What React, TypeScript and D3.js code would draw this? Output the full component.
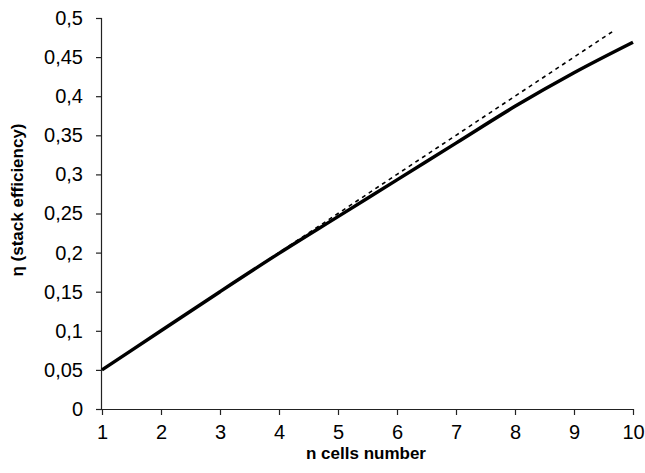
import * as d3 from "d3";
import React, { useEffect, useRef } from "react";

// cells in the stack
const cells = [1, 2, 3, 4, 5, 6, 7, 8, 9, 10];
// stack efficiency (solid)
const efficiency = [0.05, 0.1, 0.15, 0.199, 0.246, 0.293, 0.34, 0.387, 0.43, 0.469];
// ideal line (dashed)
const idealCells = [1, 2, 3, 4, 5, 6, 7, 8, 9, 9.7];
const idealEff = [0.05, 0.1, 0.15, 0.2, 0.25, 0.3, 0.35, 0.4, 0.45, 0.485];
const yTicks = [0, 0.05, 0.1, 0.15, 0.2, 0.25, 0.3, 0.35, 0.4, 0.45, 0.5];

const App = () => {
  const svgRef = useRef<SVGSVGElement>(null);
  useEffect(() => {
    const width = 645;
    const height = 473;
    const svg = d3.select(svgRef.current).attr("width", width).attr("height", height);
    svg.selectAll("*").remove();
    const font = "Arial, 'Liberation Sans', sans-serif";

    //scales
    const x = d3.scaleLinear().domain([1, 10]).range([102, 633]);
    const y = d3.scaleLinear().domain([0, 0.5]).range([409, 18]);

    //axes
    const xAxis = d3.axisBottom(x).tickValues(cells).tickSize(6).tickPadding(10).tickFormat((d) => String(d));
    const yAxis = d3
      .axisLeft(y)
      .tickValues(yTicks)
      .tickSize(6)
      .tickPadding(13)
      .tickFormat((d) => String(+d).replace(".", ","));

    const gx = svg.append("g").attr("transform", `translate(0,${y(0)})`).call(xAxis);
    const gy = svg.append("g").attr("transform", `translate(${x(1)},0)`).call(yAxis);
    [gx, gy].forEach((g) => {
      g.select(".domain").attr("stroke", "#222").attr("stroke-width", 1.2);
      g.selectAll(".tick line").attr("stroke", "#222").attr("stroke-width", 1.2);
      g.selectAll("text").attr("font-family", font).attr("font-size", 20).attr("fill", "#000");
    });
    gy.select(".domain").attr("d", `M-0.5,${y(0.5)}V${y(0)}`);
    gx.select(".domain").attr("d", `M${x(1)},0.5H${x(10)}`);

    //lines
    const line = d3
      .line<[number, number]>()
      .x((d) => x(d[0]))
      .y((d) => y(d[1]))
      .curve(d3.curveMonotoneX);

    svg
      .append("path")
      .datum(idealCells.map((c, i) => [c, idealEff[i]] as [number, number]))
      .attr("d", line)
      .attr("fill", "none")
      .attr("stroke", "#000")
      .attr("stroke-width", 1.6)
      .attr("stroke-dasharray", "4,4");

    svg
      .append("path")
      .datum(cells.map((c, i) => [c, efficiency[i]] as [number, number]))
      .attr("d", line)
      .attr("fill", "none")
      .attr("stroke", "#000")
      .attr("stroke-width", 3.5);

    //titles
    svg
      .append("text")
      .attr("x", 366)
      .attr("y", 459)
      .attr("text-anchor", "middle")
      .attr("font-family", font)
      .attr("font-weight", "bold")
      .attr("font-size", 17)
      .text("n cells number");

    svg
      .append("text")
      .attr("transform", `translate(23,200) rotate(-90)`)
      .attr("text-anchor", "middle")
      .attr("font-family", font)
      .attr("font-weight", "bold")
      .attr("font-size", 17)
      .text("η (stack efficiency)");
  }, []);

  return (
    <svg
      ref={svgRef}
      style={{ position: "absolute", left: 0, top: 0, background: "#fff" }}
    ></svg>
  );
};

export default App;
